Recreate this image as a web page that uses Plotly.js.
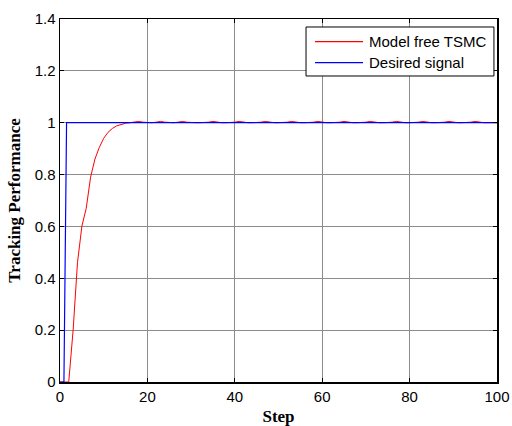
<!DOCTYPE html>
<html>
<head>
<meta charset="utf-8">
<script src="https://cdn.plot.ly/plotly-3.0.1.min.js"></script>
<style>html,body{margin:0;padding:0;background:#fff;}#chart{width:512px;height:426px;}</style>
</head>
<body>
<div id="chart"></div>
<script>
// Step index for the model-free TSMC response
const steps = [0,1,2,3,4,5,6,7,8,9,10,11,12,13,14,15,16,17,18,19,20,21,22,23,24,25,26,27,28,29,30,
  31,32,33,34,35,36,37,38,39,40,41,42,43,44,45,46,47,48,49,50,51,52,53,54,55,56,57,58,59,60,
  61,62,63,64,65,66,67,68,69,70,71,72,73,74,75,76,77,78,79,80,81,82,83,84,85,86,87,88,89,90,
  91,92,93,94,95,96,97,98,99,100];
// Model free TSMC output
const tsmc = [0,0,0,0.2,0.46,0.6,0.67,0.79,0.86,0.905,0.94,0.963,0.978,0.988,0.994,0.998,1.0,1.002,1.005,1.002,1.0,
  1.0,1.002,1.005,1.002,1.0,1.0,1.002,1.005,1.002,1.0,
  1.0,1.0,1.0,1.002,1.005,1.002,1.0,1.0,1.0,1.002,
  1.005,1.002,1.0,1.0,1.0,1.002,1.005,1.002,1.0,1.0,
  1.0,1.002,1.005,1.002,1.0,1.0,1.0,1.002,1.005,1.002,
  1.0,1.0,1.0,1.002,1.005,1.002,1.0,1.0,1.0,1.002,
  1.005,1.002,1.0,1.0,1.0,1.002,1.005,1.002,1.0,1.0,
  1.0,1.002,1.005,1.002,1.0,1.0,1.0,1.002,1.005,1.002,
  1.0,1.0,1.0,1.002,1.005,1.002,1.0,1.0,1.0,1.0];
// Desired signal
const desiredX = [0, 0.9, 1.5, 100];
const desiredY = [0, 0, 1, 1];
const seriesNames = ['Model free TSMC', 'Desired signal'];
const seriesColors = ['#ff0000', '#0000ff'];
const xTicks = [0,20,40,60,80,100];
const xTickText = ['0','20','40','60','80','100'];
const yTicks = [0,0.2,0.4,0.6,0.8,1,1.2,1.4];
const yTickText = ['0','0.2','0.4','0.6','0.8','1','1.2','1.4'];

const traces = [
  {x: steps, y: tsmc, name: seriesNames[0], type: 'scatter', mode: 'lines',
   line: {color: seriesColors[0], width: 1}, showlegend: false},
  {x: desiredX, y: desiredY, name: seriesNames[1], type: 'scatter', mode: 'lines',
   line: {color: seriesColors[1], width: 1.2}, showlegend: false}
];

const tickFont = {family: 'Liberation Sans, Arial, sans-serif', size: 15, color: '#000'};
const titleFont = {family: 'Liberation Serif, Times New Roman, serif', size: 17, color: '#000'};

const axisCommon = {
  showline: true, linecolor: '#000', linewidth: 1.5, mirror: 'ticks',
  ticks: 'inside', ticklen: 4, tickcolor: '#000', tickwidth: 1,
  showgrid: true, gridcolor: '#8c8c8c', gridwidth: 1, zeroline: false,
  tickfont: tickFont
};

// Manual MATLAB-style legend box (paper coordinates)
const legendBox = {x0: 0.563, x1: 0.993, y0: 0.843, y1: 0.978};
const legendRowsY = [0.9375, 0.8796];
const legendLineX = [0.5835, 0.6934];
const legendTextX = 0.7025;

const shapes = [{
  type: 'rect', xref: 'paper', yref: 'paper',
  x0: legendBox.x0, x1: legendBox.x1, y0: legendBox.y0, y1: legendBox.y1,
  line: {color: '#000', width: 1}, fillcolor: '#fff', layer: 'above'
}];
const annotations = [];
seriesNames.forEach((n, i) => {
  shapes.push({type: 'line', xref: 'paper', yref: 'paper',
    x0: legendLineX[0], x1: legendLineX[1], y0: legendRowsY[i], y1: legendRowsY[i],
    line: {color: seriesColors[i], width: 1.2}, layer: 'above'});
  annotations.push({xref: 'paper', yref: 'paper', x: legendTextX, y: legendRowsY[i],
    xanchor: 'left', yanchor: 'middle', text: n, showarrow: false,
    font: tickFont});
});

const layout = {
  width: 512, height: 426,
  margin: {l: 60, r: 15, t: 19, b: 44, pad: 0},
  paper_bgcolor: '#fff', plot_bgcolor: '#fff',
  showlegend: false,
  shapes: shapes,
  annotations: annotations,
  xaxis: Object.assign({}, axisCommon, {
    range: [0, 100], tickvals: xTicks, ticktext: xTickText,
    title: {text: '<b>Step</b>', font: titleFont, standoff: 7}
  }),
  yaxis: Object.assign({}, axisCommon, {
    range: [0, 1.4], tickvals: yTicks, ticktext: yTickText,
    title: {text: '<b>Tracking Performance</b>', font: titleFont, standoff: 9}
  })
};

Plotly.newPlot('chart', traces, layout, {displayModeBar: false, staticPlot: true});
</script>
</body>
</html>
